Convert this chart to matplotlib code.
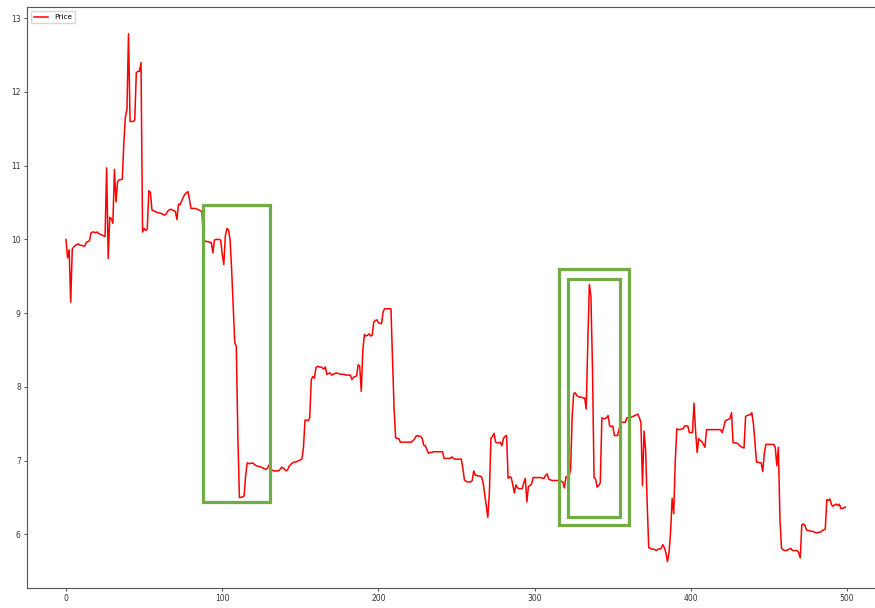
import matplotlib
matplotlib.use("Agg")
import matplotlib.pyplot as plt
from matplotlib.patches import Rectangle

# Daily closing price, one value per trading day (day 0 .. 499)
price = [
    10.00, 9.75, 9.86, 9.15, 9.87, 9.90, 9.92, 9.93, 9.94, 9.92,
    9.92, 9.91, 9.91, 9.96, 9.97, 9.98, 10.09, 10.10, 10.10, 10.09,
    10.10, 10.08, 10.07, 10.06, 10.05, 10.04, 10.97, 9.74, 10.30, 10.28,
    10.22, 10.95, 10.51, 10.78, 10.81, 10.81, 10.82, 11.30, 11.66, 11.76,
    12.79, 11.60, 11.60, 11.60, 11.62, 12.26, 12.28, 12.28, 12.40, 10.10,
    10.15, 10.12, 10.14, 10.66, 10.64, 10.40, 10.39, 10.38, 10.37, 10.36,
    10.36, 10.35, 10.34, 10.33, 10.34, 10.38, 10.40, 10.41, 10.40, 10.39,
    10.38, 10.27, 10.48, 10.47, 10.52, 10.57, 10.61, 10.63, 10.65, 10.55,
    10.42, 10.42, 10.42, 10.42, 10.41, 10.40, 10.39, 10.38, 10.00, 9.98,
    9.97, 9.97, 9.96, 9.96, 9.82, 9.99, 10.00, 10.00, 10.00, 9.99,
    9.80, 9.66, 10.05, 10.15, 10.13, 10.00, 9.60, 9.10, 8.60, 8.55,
    7.33, 6.50, 6.50, 6.51, 6.52, 6.80, 6.97, 6.96, 6.96, 6.97,
    6.96, 6.94, 6.93, 6.92, 6.92, 6.91, 6.90, 6.89, 6.88, 6.90,
    6.94, 6.88, 6.87, 6.86, 6.86, 6.86, 6.86, 6.88, 6.91, 6.90,
    6.88, 6.86, 6.88, 6.93, 6.95, 6.97, 6.98, 6.98, 6.99, 7.00,
    7.01, 7.02, 7.18, 7.55, 7.55, 7.54, 7.58, 8.10, 8.14, 8.12,
    8.26, 8.28, 8.27, 8.27, 8.26, 8.24, 8.27, 8.17, 8.18, 8.19,
    8.16, 8.17, 8.18, 8.19, 8.18, 8.18, 8.17, 8.17, 8.17, 8.16,
    8.16, 8.16, 8.16, 8.10, 8.13, 8.14, 8.15, 8.30, 8.28, 7.94,
    8.50, 8.71, 8.69, 8.70, 8.72, 8.69, 8.70, 8.88, 8.90, 8.91,
    8.87, 8.86, 8.86, 9.02, 9.06, 9.06, 9.06, 9.06, 9.06, 8.40,
    7.70, 7.31, 7.30, 7.30, 7.25, 7.25, 7.25, 7.25, 7.25, 7.25,
    7.25, 7.25, 7.27, 7.29, 7.33, 7.34, 7.33, 7.33, 7.30, 7.21,
    7.20, 7.15, 7.10, 7.11, 7.11, 7.12, 7.12, 7.12, 7.12, 7.12,
    7.12, 7.12, 7.03, 7.03, 7.03, 7.03, 7.03, 7.05, 7.03, 7.02,
    7.02, 7.02, 7.02, 7.02, 6.90, 6.74, 6.72, 6.71, 6.71, 6.71,
    6.73, 6.86, 6.80, 6.80, 6.79, 6.79, 6.78, 6.70, 6.55, 6.39,
    6.23, 6.56, 7.30, 7.33, 7.37, 7.25, 7.24, 7.24, 7.25, 7.20,
    7.30, 7.33, 7.34, 6.76, 6.78, 6.77, 6.67, 6.56, 6.67, 6.63,
    6.62, 6.62, 6.62, 6.70, 6.76, 6.44, 6.65, 6.66, 6.68, 6.77,
    6.77, 6.77, 6.77, 6.77, 6.77, 6.76, 6.76, 6.80, 6.82, 6.75,
    6.74, 6.73, 6.73, 6.73, 6.73, 6.73, 6.73, 6.72, 6.71, 6.63,
    6.78, 6.77, 6.79, 6.88, 7.60, 7.91, 7.92, 7.88, 7.87, 7.86,
    7.86, 7.85, 7.85, 7.70, 8.60, 9.39, 9.23, 8.24, 6.77, 6.75,
    6.64, 6.66, 6.70, 7.58, 7.57, 7.57, 7.58, 7.61, 7.47, 7.46,
    7.47, 7.34, 7.34, 7.34, 7.42, 7.50, 7.52, 7.52, 7.52, 7.58,
    7.58, 7.58, 7.59, 7.60, 7.61, 7.62, 7.63, 7.58, 7.52, 6.66,
    7.40, 7.15, 6.43, 5.82, 5.81, 5.80, 5.80, 5.79, 5.78, 5.80,
    5.80, 5.81, 5.86, 5.82, 5.75, 5.63, 5.75, 6.03, 6.49, 6.28,
    7.00, 7.43, 7.42, 7.42, 7.43, 7.43, 7.47, 7.47, 7.47, 7.38,
    7.38, 7.38, 7.78, 7.40, 7.11, 7.30, 7.27, 7.26, 7.22, 7.18,
    7.42, 7.42, 7.42, 7.42, 7.42, 7.42, 7.42, 7.42, 7.42, 7.42,
    7.38, 7.45, 7.54, 7.55, 7.56, 7.57, 7.65, 7.24, 7.24, 7.24,
    7.23, 7.21, 7.19, 7.18, 7.17, 7.60, 7.61, 7.62, 7.62, 7.65,
    7.50, 7.25, 6.98, 6.98, 6.97, 6.97, 6.85, 7.10, 7.22, 7.22,
    7.22, 7.22, 7.22, 7.22, 7.18, 6.93, 7.18, 6.20, 5.81, 5.79,
    5.78, 5.78, 5.79, 5.80, 5.81, 5.78, 5.78, 5.78, 5.78, 5.75,
    5.68, 6.13, 6.14, 6.12, 6.06, 6.05, 6.05, 6.04, 6.04, 6.03,
    6.02, 6.02, 6.03, 6.03, 6.05, 6.06, 6.07, 6.47, 6.46, 6.48,
    6.40, 6.38, 6.40, 6.41, 6.39, 6.41, 6.35, 6.35, 6.36, 6.37,
]
days = list(range(len(price)))

# Highlighted windows: (start day, end day, low price, high price)
highlight_x0 = [87.8, 315.8, 321.2]
highlight_x1 = [130.7, 360.2, 354.6]
highlight_y0 = [6.44, 6.13, 6.24]
highlight_y1 = [10.47, 9.60, 9.47]

fig = plt.figure(figsize=(8.75, 6.08), dpi=100)
ax = fig.add_axes([0.0309, 0.0329, 0.980, 0.955])

ax.plot(days, price, color="red", linewidth=1.1, label="Price")

for x0, x1, y0, y1 in zip(highlight_x0, highlight_x1, highlight_y0, highlight_y1):
    ax.add_patch(Rectangle((x0, y0), x1 - x0, y1 - y0, fill=False,
                           edgecolor="#70ad47", linewidth=2.3, zorder=3))

ax.set_xticks([0, 100, 200, 300, 400, 500])
ax.set_yticks([6, 7, 8, 9, 10, 11, 12, 13])
ax.tick_params(labelsize=5.5, length=2.5, width=0.6, pad=2, colors="#333333")
for s in ax.spines.values():
    s.set_linewidth(0.8)
    s.set_color("#555555")

ax.legend(loc="upper left", fontsize=5.3, borderaxespad=0.5)

fig.savefig("out.png", dpi=100)
